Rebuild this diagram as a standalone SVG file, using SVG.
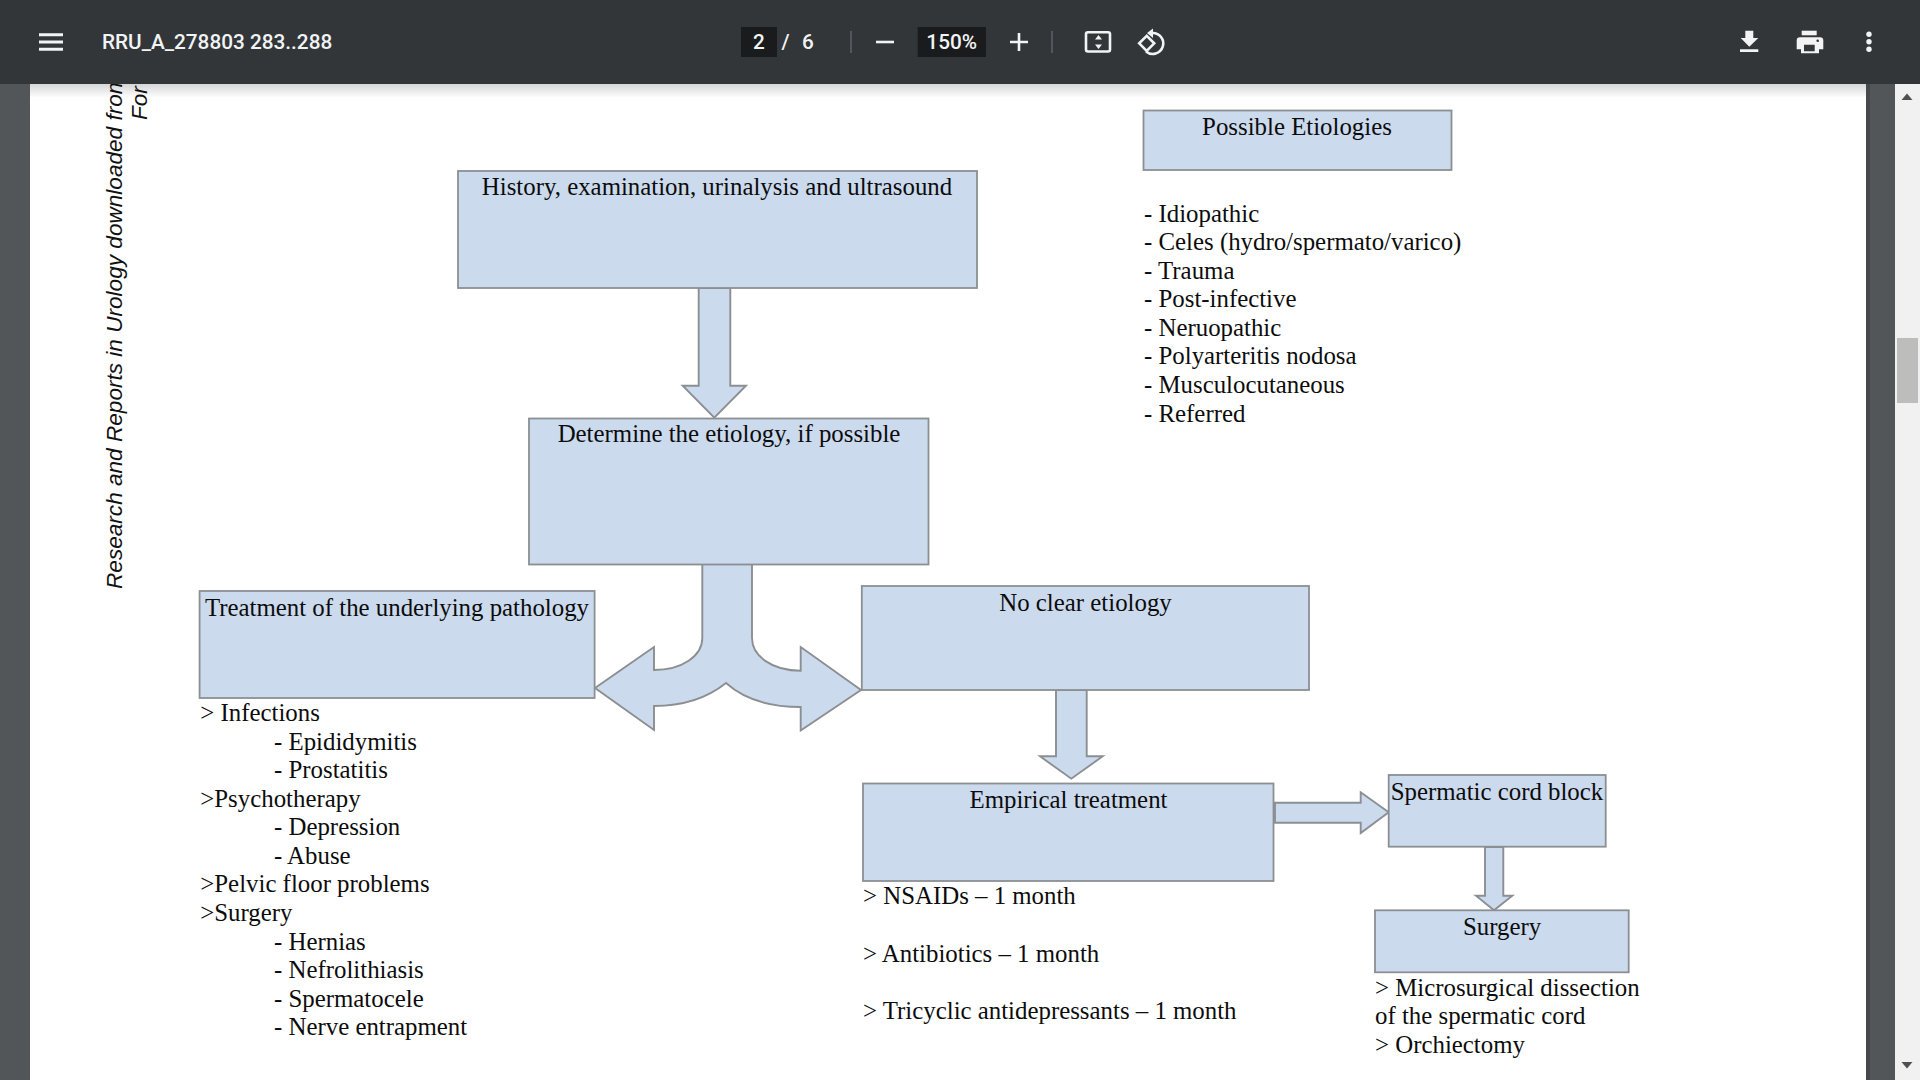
<svg xmlns="http://www.w3.org/2000/svg" width="1920" height="1080" viewBox="0 0 1920 1080">
<style>
.box{fill:#cbdaed;stroke:#8c8f92;stroke-width:1.8}
.arr{fill:#cbdaed;stroke:#8c8f92;stroke-width:1.9;stroke-linejoin:miter}
.t{font-family:"Liberation Serif","Times New Roman",serif;font-size:24.85px;fill:#0c0c0c}
.m{text-anchor:middle}
.v{font-family:"Liberation Sans",Arial,sans-serif;font-style:italic;font-size:22.6px;fill:#111}
.ui{font-family:Roboto,"Liberation Sans",sans-serif;font-weight:500;font-size:20.75px;fill:#f1f3f4}
.ic{fill:none;stroke:#f1f3f4;stroke-width:2.6}
.if{fill:#f1f3f4}
</style>
<defs>
<linearGradient id="sh" x1="0" y1="0" x2="0" y2="1"><stop offset="0" stop-color="#000" stop-opacity=".16"/><stop offset="1" stop-color="#000" stop-opacity="0"/></linearGradient>
</defs>
<rect width="1920" height="1080" fill="#525659"/>
<rect x="30" y="0" width="1836" height="1080" fill="#fff"/>
<rect x="1866" y="0" width="4" height="1080" fill="#46494b"/>
<rect x="1895" y="0" width="25" height="1080" fill="#f1f1f1"/>
<rect x="1897" y="338" width="21" height="65" fill="#bdbdbb"/>
<path d="M1901.500 100l5.500-6.500 5.500 6.500z" fill="#505050"/>
<path d="M1901.500 1062l5.500 6.500 5.500-6.500z" fill="#505050"/>
<g id="margin-text">
<text class="v" transform="translate(122 589) rotate(-90)">Research and Reports in Urology downloaded from</text>
<text class="v" transform="translate(147 120) rotate(-90)">For</text>
</g>
<g id="connectors">
<path class="arr" d="M698.700 288H730.300V385.700H746L714.300 417.700L682.700 385.700H698.700Z"/>
<path class="arr" d="M702.300 564H752V638C752 656 772 670.700 800.700 670.700V647L861 690L800.700 730.500V707C772 707 745 700 726 683C706 699 680 706 654 706V730L595 688L654 647V670C682 670 702.300 656 702.300 638Z"/>
<path class="arr" d="M1056 690H1086.700V756.300H1102.700L1071.300 778.700L1040 756.300H1056Z"/>
<path class="arr" d="M1275 802.700H1360.700V792.300L1388.700 812.300L1360.700 833V822.700H1275Z"/>
<path class="arr" d="M1485 847H1503.300V895.700H1512.300L1494 910.300L1476 895.700H1485Z"/>
</g>
<g id="node-history"><rect class="box" x="458" y="171" width="519" height="117"/><text class="t m" x="717" y="195">History, examination, urinalysis and ultrasound</text></g>
<g id="node-etiologies"><rect class="box" x="1143.500" y="110.500" width="308" height="59.500"/><text class="t m" x="1297" y="135">Possible Etiologies</text></g>
<g id="etiologies-list">
<text class="t" x="1144" y="222">- Idiopathic</text>
<text class="t" x="1144" y="250">- Celes (hydro/spermato/varico)</text>
<text class="t" x="1144" y="279">- Trauma</text>
<text class="t" x="1144" y="307">- Post-infective</text>
<text class="t" x="1144" y="336">- Neruopathic</text>
<text class="t" x="1144" y="364">- Polyarteritis nodosa</text>
<text class="t" x="1144" y="393">- Musculocutaneous</text>
<text class="t" x="1144" y="422">- Referred</text>
</g>
<g id="node-determine"><rect class="box" x="529" y="418.500" width="399.500" height="146"/><text class="t m" x="729" y="442">Determine the etiology, if possible</text></g>
<g id="node-treatment"><rect class="box" x="199.600" y="591" width="395" height="107"/><text class="t m" x="397" y="616">Treatment of the underlying pathology</text></g>
<g id="treatment-list">
<text class="t" x="200.300" y="721">&gt; Infections</text>
<text class="t" x="274" y="750">- Epididymitis</text>
<text class="t" x="274" y="778">- Prostatitis</text>
<text class="t" x="200.300" y="807">&gt;Psychotherapy</text>
<text class="t" x="274" y="835">- Depression</text>
<text class="t" x="274" y="864">- Abuse</text>
<text class="t" x="200.300" y="892">&gt;Pelvic floor problems</text>
<text class="t" x="200.300" y="921">&gt;Surgery</text>
<text class="t" x="274" y="950">- Hernias</text>
<text class="t" x="274" y="978">- Nefrolithiasis</text>
<text class="t" x="274" y="1007">- Spermatocele</text>
<text class="t" x="274" y="1035">- Nerve entrapment</text>
</g>
<g id="node-noclear"><rect class="box" x="861.800" y="586" width="447.200" height="104"/><text class="t m" x="1085.500" y="610.500">No clear etiology</text></g>
<g id="node-empirical"><rect class="box" x="863" y="783.500" width="410.500" height="97.500"/><text class="t m" x="1068.500" y="807.500">Empirical treatment</text></g>
<g id="empirical-list">
<text class="t" x="863" y="904">&gt; NSAIDs – 1 month</text>
<text class="t" x="863" y="962">&gt; Antibiotics – 1 month</text>
<text class="t" x="863" y="1019">&gt; Tricyclic antidepressants – 1 month</text>
</g>
<g id="node-block"><rect class="box" x="1388.700" y="775" width="217" height="71.700"/><text class="t m" x="1497" y="800">Spermatic cord block</text></g>
<g id="node-surgery"><rect class="box" x="1375" y="910.300" width="253.700" height="62"/><text class="t m" x="1502" y="935">Surgery</text></g>
<g id="surgery-list">
<text class="t" x="1375" y="996">&gt; Microsurgical dissection</text>
<text class="t" x="1375" y="1024">of the spermatic cord</text>
<text class="t" x="1375" y="1053">&gt; Orchiectomy</text>
</g>
<rect x="30" y="84" width="1836" height="14" fill="url(#sh)"/>
<g id="toolbar">
<rect width="1920" height="84" fill="#323639"/>
<path d="M39 34.700H63M39 42H63M39 49.300H63" fill="none" stroke="#f1f3f4" stroke-width="3"/>
<text class="ui" x="102" y="49">RRU_A_278803 283..288</text>
<rect x="741" y="27" width="36" height="30" fill="#191b1c"/>
<text class="ui" x="759" y="49" text-anchor="middle">2</text>
<text class="ui" x="785.500" y="49" text-anchor="middle">/</text>
<text class="ui" x="808" y="49" text-anchor="middle">6</text>
<path d="M851 31V53" stroke="#5f6368" stroke-width="1.500"/>
<path d="M876 42H894" class="ic"/>
<rect x="917.700" y="27" width="68.300" height="30" fill="#191b1c"/>
<text class="ui" x="951.700" y="49" text-anchor="middle">150%</text>
<path d="M1010 42H1028M1019 33V51" class="ic"/>
<path d="M1052 31V53" stroke="#5f6368" stroke-width="1.500"/>
<rect x="1086" y="32.300" width="24" height="19.200" rx="2" class="ic"/>
<path d="M1098.500 35l-3.500 4.500h7zM1098.500 49l-3.500-4.500h7z" class="if"/>
<path d="M1146.700 35.800l-7.500 7.500 7.500 7.500 7.500-7.500z" class="ic"/>
<path d="M1152 33A10.500 10.500 0 1 1 1146 51.500" class="ic"/>
<path d="M1153 28.500V38L1147 33z" class="if"/>
<path d="M1745.300 30.700h8v7.300h5l-9 8.700-8.600-8.700h4.600zM1740 49.300h18.300v2.700h-18.300z" class="if"/>
<path d="M1801.700 30.700h15v4.600h-15z" class="if"/>
<path fill-rule="evenodd" d="M1800 37.300h20a3.300 3.300 0 0 1 3.300 3.300V49.300h-4.300v4H1801v-4h-4.300V40.600a3.300 3.300 0 0 1 3.300-3.300zM1804 44.700v6.600h10.700v-6.600z" class="if"/>
<circle cx="1817.700" cy="40.700" r="1.300" fill="#323639"/>
<circle cx="1869" cy="34.300" r="2.700" class="if"/><circle cx="1869" cy="41.700" r="2.700" class="if"/><circle cx="1869" cy="49.300" r="2.700" class="if"/>
</g>
</svg>
